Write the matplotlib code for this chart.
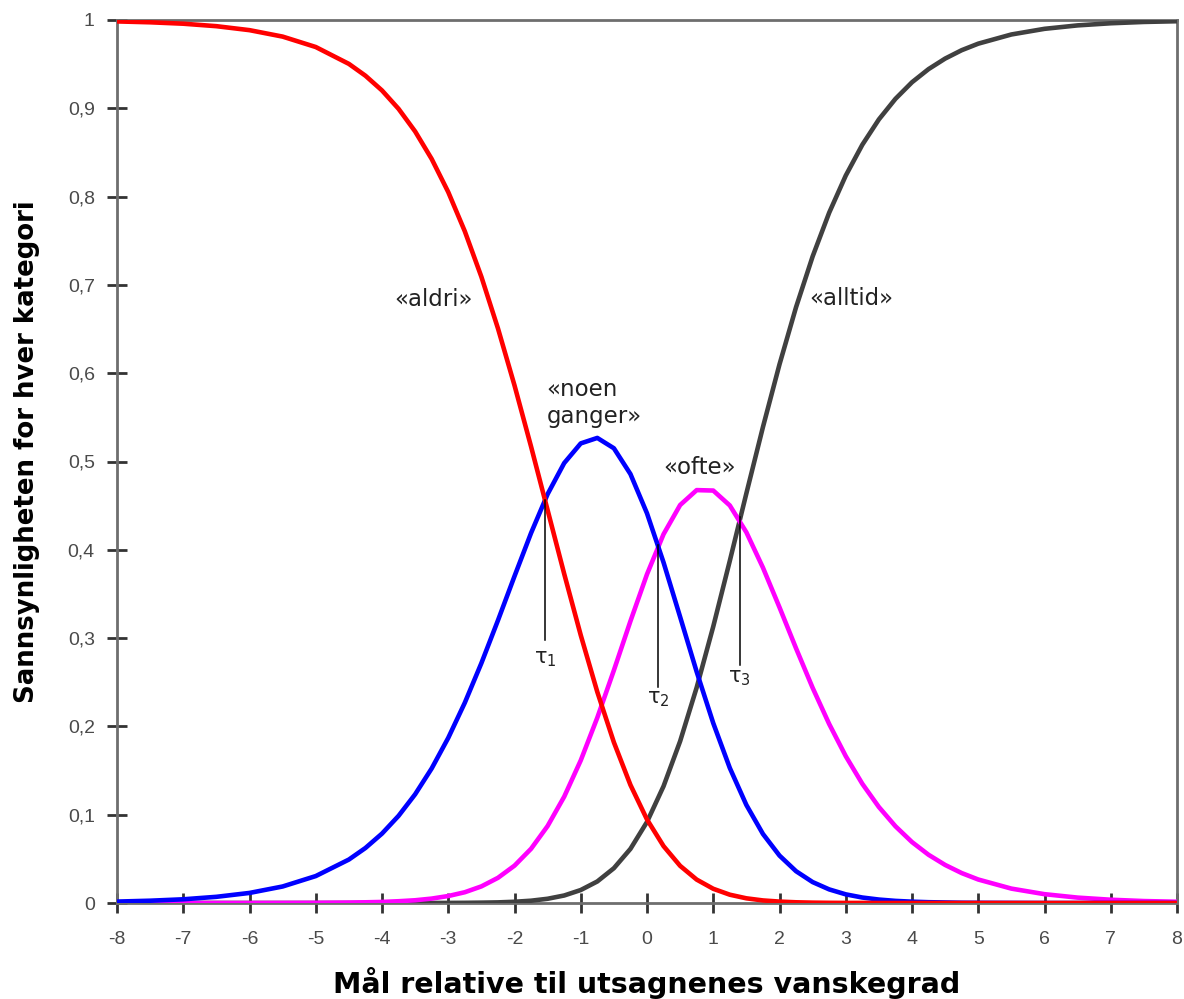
import matplotlib
matplotlib.use("Agg")
import matplotlib.pyplot as plt

# Person location relative to item difficulty (x positions of the read values)
theta = [-8.0, -7.5, -7.0, -6.5, -6.0, -5.5, -5.0,
         -4.5, -4.25, -4.0, -3.75, -3.5, -3.25, -3.0, -2.75, -2.5, -2.25,
         -2.0, -1.75, -1.5, -1.25, -1.0, -0.75, -0.5, -0.25, 0.0, 0.25,
         0.5, 0.75, 1.0, 1.25, 1.5, 1.75, 2.0, 2.25, 2.5, 2.75, 3.0, 3.25,
         3.5, 3.75, 4.0, 4.25, 4.5, 4.75, 5.0,
         5.5, 6.0, 6.5, 7.0, 7.5, 8.0]

p_aldri = [0.9984, 0.9974, 0.9958, 0.9930, 0.9885, 0.9812, 0.9694,
           0.9503, 0.9369, 0.9202, 0.8994, 0.8738, 0.8426, 0.8051, 0.7607, 0.7092, 0.6508,
           0.5862, 0.5169, 0.4449, 0.3728, 0.3033, 0.2390, 0.1820, 0.1337, 0.0946, 0.0644,
           0.0421, 0.0265, 0.0161, 0.0094, 0.0053, 0.0029, 0.0016, 0.0008, 0.0004, 0.0002, 0.0001, 0.0001,
           0.0000, 0.0000, 0.0000, 0.0000, 0.0000, 0.0000, 0.0000,
           0.0000, 0.0000, 0.0000, 0.0000, 0.0000, 0.0000]

p_noen = [0.0016, 0.0026, 0.0042, 0.0070, 0.0114, 0.0187, 0.0305,
          0.0492, 0.0623, 0.0786, 0.0987, 0.1231, 0.1524, 0.1870, 0.2268, 0.2716, 0.3200,
          0.3701, 0.4190, 0.4631, 0.4982, 0.5205, 0.5267, 0.5150, 0.4858, 0.4413, 0.3856,
          0.3240, 0.2618, 0.2037, 0.1529, 0.1110, 0.0782, 0.0537, 0.0360, 0.0237, 0.0154, 0.0098, 0.0062,
          0.0039, 0.0024, 0.0015, 0.0009, 0.0006, 0.0003, 0.0002,
          0.0001, 0.0000, 0.0000, 0.0000, 0.0000, 0.0000]

p_ofte = [0.0000, 0.0000, 0.0000, 0.0000, 0.0000, 0.0001, 0.0002,
          0.0005, 0.0008, 0.0012, 0.0020, 0.0031, 0.0050, 0.0079, 0.0122, 0.0188, 0.0285,
          0.0423, 0.0614, 0.0872, 0.1204, 0.1615, 0.2099, 0.2635, 0.3192, 0.3723, 0.4177,
          0.4507, 0.4676, 0.4671, 0.4502, 0.4198, 0.3798, 0.3348, 0.2884, 0.2437, 0.2027, 0.1663, 0.1350,
          0.1087, 0.0869, 0.0690, 0.0546, 0.0431, 0.0339, 0.0266,
          0.0163, 0.0100, 0.0061, 0.0037, 0.0022, 0.0014]

p_alltid = [0.0000, 0.0000, 0.0000, 0.0000, 0.0000, 0.0000, 0.0000,
            0.0000, 0.0000, 0.0000, 0.0000, 0.0000, 0.0000, 0.0001, 0.0002, 0.0004, 0.0007,
            0.0014, 0.0026, 0.0048, 0.0085, 0.0147, 0.0244, 0.0394, 0.0613, 0.0918, 0.1323,
            0.1832, 0.2441, 0.3131, 0.3875, 0.4639, 0.5390, 0.6100, 0.6748, 0.7322, 0.7818, 0.8238, 0.8587,
            0.8874, 0.9107, 0.9295, 0.9444, 0.9563, 0.9658, 0.9732,
            0.9836, 0.9900, 0.9939, 0.9963, 0.9978, 0.9986]

# thresholds (tau) and the probability where adjacent curves cross
tau_x = [-1.54, 0.17, 1.40]
tau_y = [0.456, 0.405, 0.437]
tau_names = ["τ$_1$", "τ$_2$", "τ$_3$"]

x_ticks = list(range(-8, 9))
y_ticks = [0, 0.1, 0.2, 0.3, 0.4, 0.5, 0.6, 0.7, 0.8, 0.9, 1.0]
y_tick_labels = ["0", "0,1", "0,2", "0,3", "0,4", "0,5", "0,6", "0,7", "0,8", "0,9", "1"]

plt.rcParams["mathtext.fontset"] = "dejavusans"

fig = plt.figure(figsize=(11.84, 9.99), dpi=100)
ax = fig.add_axes([117 / 1184, 96 / 999, 1060 / 1184, 883 / 999])

line_kw = dict(lw=3.3, solid_joinstyle="round", solid_capstyle="butt")
ax.plot(theta, p_alltid, color="#404040", zorder=3, **line_kw)
ax.plot(theta, p_ofte, color="#ff00ff", zorder=4, **line_kw)
ax.plot(theta, p_noen, color="#0000ff", zorder=5, **line_kw)
ax.plot(theta, p_aldri, color="#ff0000", zorder=6, **line_kw)

# threshold markers
line_len = [0.158, 0.16, 0.167]
label_gap = [0.022, 0.014, 0.015]
for tx, ty, name, ll, lg in zip(tau_x, tau_y, tau_names, line_len, label_gap):
    ax.plot([tx, tx], [ty, ty - ll], color="black", lw=1.1, zorder=7)
    ax.text(tx, ty - ll - lg, name, ha="center", va="center", fontsize=15,
            family="DejaVu Sans", color="#222222", zorder=8)

lab_kw = dict(fontsize=16.5, family="DejaVu Sans", color="#222222", zorder=8)
ax.text(-3.23, 0.683, "«aldri»", ha="center", va="center", **lab_kw)
ax.text(3.09, 0.685, "«alltid»", ha="center", va="center", **lab_kw)
ax.text(-1.52, 0.566, "«noen\nganger»", ha="left", va="center", linespacing=1.2, **lab_kw)
ax.text(0.80, 0.493, "«ofte»", ha="center", va="center", **lab_kw)

ax.set_xlim(-8, 8)
ax.set_ylim(0, 1)
ax.set_xticks(x_ticks)
ax.set_xticklabels([str(v) for v in x_ticks])
ax.set_yticks(y_ticks)
ax.set_yticklabels(y_tick_labels)

for s in ax.spines.values():
    s.set_color("#6e6e6e")
    s.set_linewidth(2.0)

ax.tick_params(axis="both", direction="inout", length=14, width=2.0, color="#333333",
               labelsize=14, labelcolor="#4a4a4a")
ax.tick_params(axis="x", pad=13)
ax.tick_params(axis="y", pad=9)
for lbl in ax.get_xticklabels() + ax.get_yticklabels():
    lbl.set_family("Liberation Sans")

ax.set_xlabel("Mål relative til utsagnenes vanskegrad", fontsize=20.5,
              fontweight="bold", family="DejaVu Sans", labelpad=14)
ax.set_ylabel("Sannsynligheten for hver kategori", fontsize=18.7,
              fontweight="bold", family="DejaVu Sans", labelpad=20)
ax.yaxis.label.set_y(0.511)

fig.savefig("out.png", dpi=100)
